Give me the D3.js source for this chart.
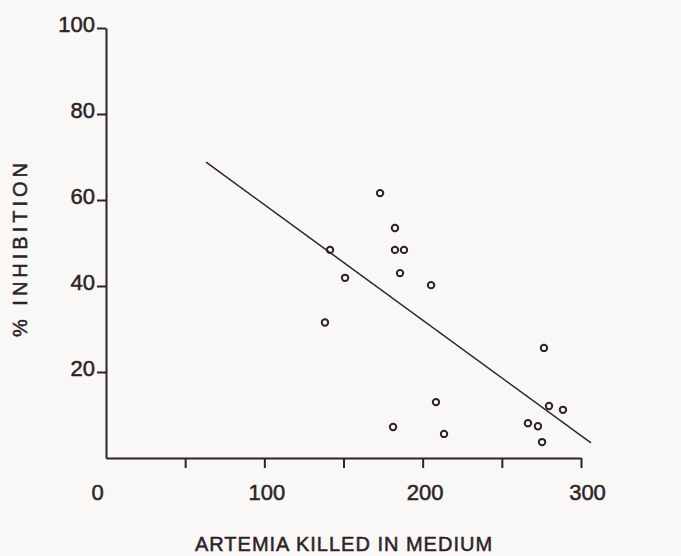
<!DOCTYPE html>
<html>
<head>
<meta charset="utf-8">
<script src="https://cdn.jsdelivr.net/npm/d3@7"></script>
<style>
    body { margin: 0; background: #f9f8f6; }
    svg { display: block; }
    .axis path, .axis line { stroke: #2b2326; stroke-width: 2; }
    .axis text { font-family: "Liberation Sans", Arial, sans-serif; font-size: 22px; fill: #2b2326;
                 stroke: #2b2326; stroke-width: 0.5px; }
    .title { font-family: "Liberation Sans", Arial, sans-serif; font-size: 20px; fill: #2b2326;
             stroke: #2b2326; stroke-width: 0.5px; }
</style>
</head>
<body>
<div id="chart"></div>
<script>
"use strict";

// data
var killed     = [173.1, 182.5, 182.5, 188.2, 141.5, 151.0, 185.7, 205.3, 138.3,
                  208.4, 181.3, 213.5, 276.6, 279.8, 288.6, 266.5, 272.8, 275.4];
var inhibition = [61.6, 53.5, 48.4, 48.4, 48.4, 41.9, 43.0, 40.2, 31.5,
                  13.0, 7.2, 5.6, 25.6, 12.1, 11.2, 8.1, 7.4, 3.7];
var fit_x = [63.2, 306.3];
var fit_y = [68.8, 3.5];

var x_ticks = [50, 100, 150, 200, 250, 300];
var x_labels = [0, 100, 200, 300];
var y_ticks = [20, 40, 60, 80, 100];

var width = 681, height = 556;

var svg = d3.select("#chart")
    .append("svg")
    .attr("width", width)
    .attr("height", height);

var x = d3.scaleLinear().domain([0, 300]).range([106, 581]);
var y = d3.scaleLinear().domain([0, 100]).range([458, 28]);

// x axis: ticks without labels, then labels without ticks
svg.append("g")
    .attr("class", "axis")
    .attr("transform", "translate(0," + y(0) + ")")
    .call(d3.axisBottom(x)
        .tickValues(x_ticks)
        .tickSize(10)
        .tickSizeOuter(0)
        .tickFormat(""));

svg.append("g")
    .attr("class", "axis")
    .attr("transform", "translate(0," + y(0) + ")")
    .call(d3.axisBottom(x)
        .tickValues(x_labels)
        .tickSize(0)
        .tickPadding(26))
    .call(function(g) {
        g.select(".domain").remove();
        g.selectAll(".tick text")
            .attr("dx", function(d) { return d === 0 ? -9 : (d === 300 ? 6 : 2); });
    });

// y axis
svg.append("g")
    .attr("class", "axis")
    .attr("transform", "translate(" + x(0) + ",0)")
    .call(d3.axisLeft(y)
        .tickValues(y_ticks)
        .tickSize(9)
        .tickSizeOuter(0)
        .tickPadding(2))
    .call(function(g) {
        g.selectAll(".tick text").attr("dy", "0.14em");
    });

// regression line
var line = d3.line()
    .x(function(d) { return x(d[0]); })
    .y(function(d) { return y(d[1]); });

svg.append("path")
    .attr("d", line(d3.zip(fit_x, fit_y)))
    .attr("fill", "none")
    .attr("stroke", "#2b2326")
    .attr("stroke-width", 1.5);

// points
svg.selectAll("circle.pt")
    .data(d3.zip(killed, inhibition))
    .enter()
    .append("circle")
    .attr("class", "pt")
    .attr("cx", function(d) { return x(d[0]); })
    .attr("cy", function(d) { return y(d[1]); })
    .attr("r", 3.2)
    .attr("fill", "none")
    .attr("stroke", "#2b2326")
    .attr("stroke-width", 2);

// titles
svg.append("text")
    .attr("class", "title")
    .attr("x", 344)
    .attr("y", 551)
    .attr("text-anchor", "middle")
    .attr("letter-spacing", 1)
    .text("ARTEMIA KILLED IN MEDIUM");

svg.append("text")
    .attr("class", "title")
    .attr("transform", "translate(27,248) rotate(-90)")
    .attr("text-anchor", "middle")
    .attr("letter-spacing", 4)
    .text("% INHIBITION");
</script>
</body>
</html>
